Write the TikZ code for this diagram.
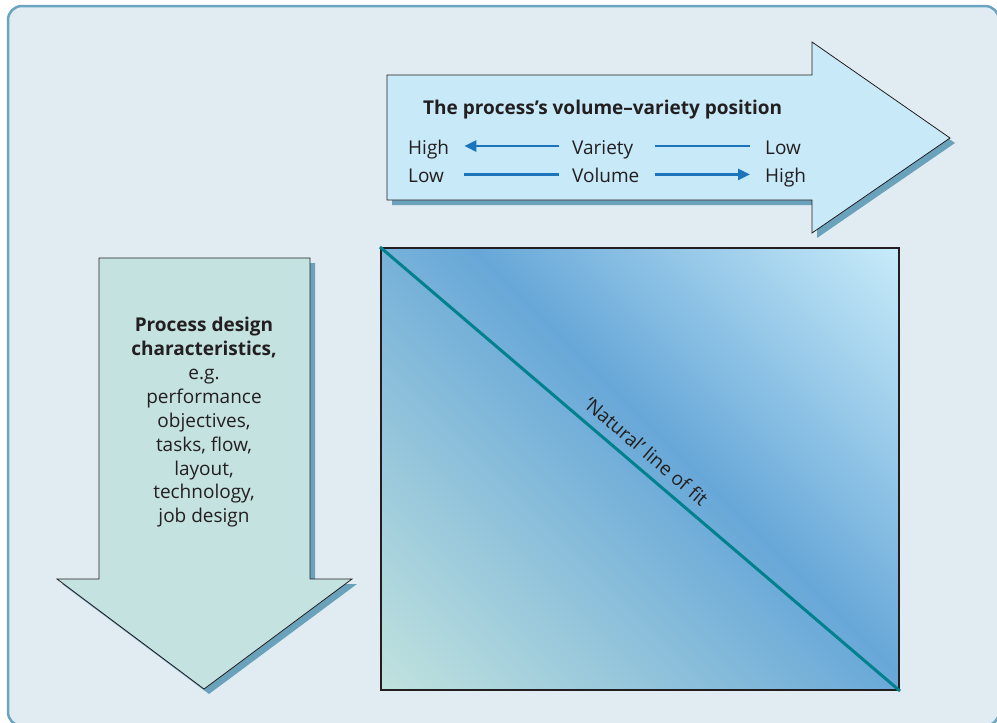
\documentclass[tikz,border=0pt]{standalone}
\usepackage{fontspec}
\setmainfont{Open Sans}
\usepackage{xcolor}
\definecolor{panelFill}{HTML}{E1ECF2}
\definecolor{panelLine}{HTML}{6AA4C0}
\definecolor{volFill}{HTML}{C7E9F8}
\definecolor{designFill}{HTML}{C4E2E0}
\definecolor{arrowShadow}{HTML}{6AA2BC}
\definecolor{flowBlue}{HTML}{1C75BC}
\definecolor{fitTeal}{HTML}{00818D}
\definecolor{fitLow}{HTML}{C0E2DE}
\definecolor{fitMid}{HTML}{67A7D8}
\definecolor{fitHigh}{HTML}{C6EAF9}
\definecolor{darkText}{HTML}{231F20}
\usepackage{tikz}
\usetikzlibrary{
    arrows.meta,
    positioning,
    shadows
}
\pgfdeclarehorizontalshading{fitshade}{100bp}{color(0bp)=(fitLow); color(15bp)=(fitLow); color(54bp)=(fitMid); color(85bp)=(fitHigh); color(100bp)=(fitHigh)}
\tikzset{
    % Rounded panel behind everything
    panel/.style={
        fill=panelFill,
        draw=panelLine,
        line width=2.5pt,
        rounded corners=14pt,
    },
    % Big block arrows with a hard shadow
    block arrow/.style={
        draw=darkText,
        line width=0.8pt,
        drop shadow={
            shadow xshift=5pt,
            shadow yshift=-5pt,
            fill=arrowShadow,
            opacity=1
        },
    },
    % Plain text in the arrows
    body text/.style={
        font=\fontsize{19}{23.9}\selectfont,
        text=darkText,
        inner sep=0pt,
    },
    % Labels of the volume/variety rows
    row label/.style={
        body text,
        text height=16pt,
        text depth=0pt,
    },
    % Blue lines between the row labels
    flow line/.style={
        draw=flowBlue,
        line width=2.6pt,
    },
    flow arrow/.style={
        flow line,
        -{Triangle[length=12pt, width=11pt]},
    },
    % Square with the gradient
    fit square/.style={
        draw=darkText,
        line width=2pt,
        shading=fitshade,
        shading angle=45,
        inner sep=0pt,
    },
    fit line/.style={
        draw=fitTeal,
        line width=3pt,
    },
}

\begin{document}
\begin{tikzpicture}[x=1pt, y=-1pt]
    \useasboundingbox (0,0) rectangle (997,723);
    \draw [panel] (8,6) rectangle (999,726);

    % volume-variety arrow
    \path [block arrow, fill=volFill] (387,75) -- (812,75) -- (812,42) -- (950,138)
        -- (812,233) -- (812,200) -- (387,200) -- cycle;
    \node (title) [body text, font=\fontsize{19}{23.9}\selectfont\bfseries, anchor=base west]
        at (423,114) {The process’s volume–variety position};
    \node (high_var) [row label, anchor=base west] at (408,154) {High};
    \node (variety) [row label, anchor=base west] at (572,154) {Variety};
    \node (low_var) [row label, anchor=base west] at (765,154) {Low};
    \node (low_vol) [row label, below=12pt of high_var.south west, anchor=north west] {Low};
    \node (volume) [row label, below=12pt of variety.south west, anchor=north west] {Volume};
    \node (high_vol) [row label, below=12pt of low_var.south west, anchor=north west] {High};

    \draw [flow arrow, shorten <=13pt, shorten >=15pt] (variety.west) -- (high_var.east);
    \draw [flow line, shorten <=22pt, shorten >=15pt] (variety.east) -- (low_var.west);
    \draw [flow line, shorten <=19.5pt, shorten >=13pt] (low_vol.east) -- (volume.west);
    \draw [flow arrow, shorten <=15pt, shorten >=15pt] (volume.east) -- (high_vol.west);

    % design characteristics arrow
    \path [block arrow, fill=designFill] (99,258) -- (310,258) -- (310,579) -- (352,579)
        -- (204,689) -- (57,579) -- (99,579) -- cycle;
    \node (design_text) [body text, align=center, anchor=north] at (204,317)
        {\textbf{Process design}\\\textbf{characteristics,}\\e.g.\\performance\\objectives,\\tasks, flow,\\layout,\\technology,\\job design};

    % square and line of fit
    \node (fit_square) [fit square, anchor=north west, minimum width=518pt, minimum height=442pt]
        at (380,247) {};
    \draw [fit line] (fit_square.north west) -- node [body text, sloped, above=9pt, pos=0.49]
        {‘Natural’ line of fit} (fit_square.south east);
\end{tikzpicture}
\end{document}
